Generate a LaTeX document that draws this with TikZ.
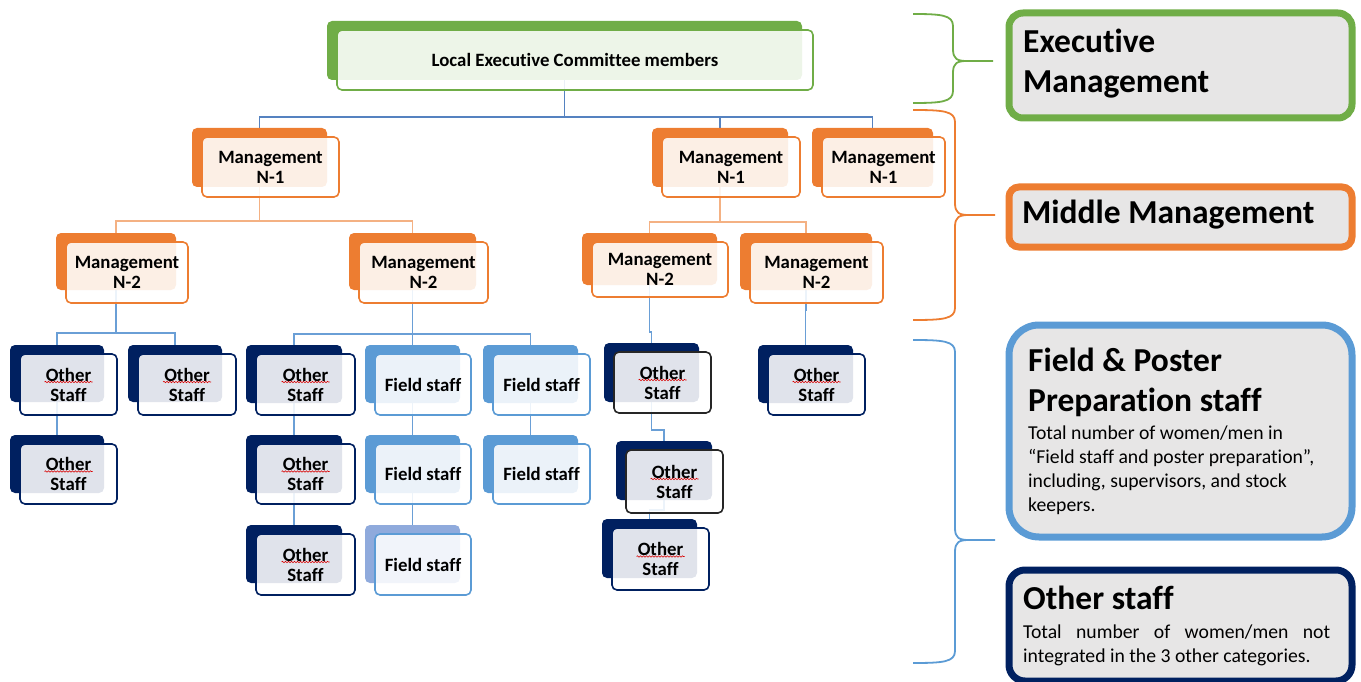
\documentclass[tikz,border=0pt]{standalone}
\usepackage{fontspec}
\setmainfont[Ligatures={NoCommon}]{Carlito}
\usetikzlibrary{decorations.pathmorphing}
\pgfdeclarelayer{bg}
\pgfsetlayers{bg,main}
\definecolor{exc}{HTML}{70AD47}
\definecolor{mgc}{HTML}{ED7D31}
\definecolor{osc}{HTML}{002060}
\definecolor{fsc}{HTML}{5B9BD5}
\definecolor{flc}{HTML}{8FAADC}
\definecolor{blk}{HTML}{262626}
\definecolor{lgfill}{HTML}{E7E6E6}
\definecolor{toplinec}{HTML}{5582C0}
\definecolor{orlinec}{HTML}{F4B183}
\definecolor{bllinec}{HTML}{6A9FD6}
\newcommand\nodefont{\bfseries\fontsize{18.8}{20}\selectfont}
\newcommand\hdfont{\bfseries\fontsize{33.5}{40}\selectfont}
\newcommand\bdfont{\fontsize{19.7}{24}\selectfont}
\tikzset{
  bk/.style={rectangle, rounded corners=5pt, inner sep=0pt, outer sep=0pt, anchor=north west},
  fr/.style={rectangle, rounded corners=5pt, inner sep=0pt, outer sep=0pt, anchor=north west,
    fill=white, fill opacity=0.88, text opacity=1, line width=1.6pt, align=center, font=\nodefont},
  exB/.style={fill=exc}, exF/.style={draw=exc},
  mgB/.style={fill=mgc}, mgF/.style={draw=mgc},
  osB/.style={fill=osc}, osF/.style={draw=osc},
  obB/.style={fill=osc}, obF/.style={draw=blk},
  fsB/.style={fill=fsc}, fsF/.style={draw=fsc},
  flB/.style={fill=flc}, flF/.style={draw=fsc},
  conn/.style={line width=1.5pt},
  leg/.style={rectangle, anchor=north west, fill=lgfill, line width=7pt, inner sep=0pt},
  hd/.style={anchor=base west, inner sep=0pt, font=\hdfont},
  bd/.style={anchor=base west, inner sep=0pt, font=\bdfont},
  squ/.style={draw=red!85!black, line width=0.6pt, decorate,
    decoration={snake, segment length=3pt, amplitude=0.7pt}},
  brc/.style={line width=1.8pt, line join=round}
}
\newcommand\obox[9]{%
  \node[bk,#8B,minimum width=#4pt,minimum height=#5pt] (#1-b) at (#2,#3) {};
  \node[fr,#8F,minimum width=#6pt,minimum height=#7pt] (#1) at (#2+10,#3+9) {#9};}
\newcommand\squig[1]{\draw[squ] ([xshift=-24pt,yshift=2.5pt]#1.center) -- ([xshift=24pt,yshift=2.5pt]#1.center);}
% brace: colour, x-end, x-spine, x-tip, y-top, y-mid, y-bottom
\newcommand\brc[7]{%
  \draw[brc,#1] (#2,#5) .. controls (#3-12,#5) and (#3,#5+1) .. (#3,#5+12) -- (#3,#6-12)
    .. controls (#3,#6-2) and (#3+4,#6) .. (#3+14,#6) -- (#4,#6)
    (#3+14,#6) .. controls (#3+4,#6) and (#3,#6+2) .. (#3,#6+12) -- (#3,#7-12)
    .. controls (#3,#7-1) and (#3-12,#7) .. (#2,#7);}
\begin{document}
\begin{tikzpicture}[x=1pt,y=-1pt]
\useasboundingbox (0,0) rectangle (1361,682);
% tree
\obox{top}{327}{21}{475}{59}{476}{60}{ex}{Local Executive Committee members}
\obox{n1a}{192}{128}{135}{59}{137}{60}{mg}{Management\\N-1}
\obox{n1b}{652}{128}{136}{59}{138}{60}{mg}{Management\\N-1}
\obox{n1c}{812}{128}{121}{59}{123}{60}{mg}{Management\\N-1}
\obox{n2a}{56}{233}{120}{57}{122}{61}{mg}{Management\\N-2}
\obox{n2b}{349}{233}{127}{57}{129}{61}{mg}{Management\\N-2}
\obox{n2c}{582}{233}{135}{52}{136}{55}{mg}{Management\\N-2}
\obox{n2d}{740}{233}{132}{57}{133}{61}{mg}{Management\\N-2}
\obox{o1}{10}{345}{94}{57}{97}{61}{os}{Other\\Staff}
\obox{o2}{128}{345}{94}{57}{98}{61}{os}{Other\\Staff}
\obox{o3}{10}{435}{94}{58}{97}{60}{os}{Other\\Staff}
\obox{o4}{246}{345}{96}{58}{99}{61}{os}{Other\\Staff}
\obox{o5}{246}{435}{96}{58}{99}{60}{os}{Other\\Staff}
\obox{o6}{246}{525}{96}{58}{99}{61}{os}{Other\\Staff}
\obox{f1}{365}{345}{95}{58}{96}{61}{fs}{Field staff}
\obox{f2}{365}{435}{95}{58}{96}{60}{fs}{Field staff}
\obox{f3}{365}{525}{95}{58}{96}{61}{fl}{Field staff}
\obox{f4}{483}{345}{95}{58}{97}{61}{fs}{Field staff}
\obox{f5}{483}{435}{95}{58}{97}{60}{fs}{Field staff}
\obox{o7}{604}{343}{95}{59}{97}{61}{ob}{Other\\Staff}
\obox{o8}{616}{441}{96}{59}{97}{63}{ob}{Other\\Staff}
\obox{o9}{602}{519}{95}{59}{97}{62}{os}{Other\\Staff}
\obox{o10}{758}{345}{95}{58}{97}{61}{os}{Other\\Staff}
\foreach \n in {o1,o2,o3,o4,o5,o6,o7,o8,o9,o10}{\squig{\n}}
% connectors
\begin{pgfonlayer}{bg}
\draw[conn,toplinec] (top-b.south) -- ++(0,37) -| (n1a-b.north);
\draw[conn,toplinec] (top-b.south) -- ++(0,37) -| (n1b-b.north);
\draw[conn,toplinec] (top-b.south) -- ++(0,37) -| (n1c-b.north);
\draw[conn,orlinec] (n1a-b.south) -- ++(0,34) -| (n2a-b.north);
\draw[conn,orlinec] (n1a-b.south) -- ++(0,34) -| (n2b-b.north);
\draw[conn,orlinec] (n1b-b.south) -- ++(0,35) -| (n2c-b.north);
\draw[conn,orlinec] (n1b-b.south) -- ++(0,35) -| (n2d-b.north);
\draw[conn,bllinec] (n2a-b.south) -- ++(0,43) -| (o1-b.north);
\draw[conn,bllinec] (n2a-b.south) -- ++(0,43) -| (o2-b.north);
\draw[conn,bllinec] (n2b-b.south) -- ++(0,44) -| (o4-b.north);
\draw[conn,bllinec] (n2b-b.south) -- ++(0,44) -| (f1-b.north);
\draw[conn,bllinec] (n2b-b.south) -- ++(0,44) -| (f4-b.north);
\draw[conn,bllinec] (n2c-b.south) -- ++(0,47) -| (o7-b.north);
\draw[conn,bllinec] (n2d-b.south) -- ++(0,20) -| (o10-b.north);
\draw[conn,bllinec] (o1-b.south) -- (o3-b.north);
\draw[conn,bllinec] (o4-b.south) -- (o5-b.north);
\draw[conn,bllinec] (o5-b.south) -- (o6-b.north);
\draw[conn,bllinec] (f1-b.south) -- (f2-b.north);
\draw[conn,bllinec] (f2-b.south) -- (f3-b.north);
\draw[conn,bllinec] (f4-b.south) -- (f5-b.north);
\draw[conn,bllinec] (o7-b.south) -- ++(0,28) -| (o8-b.north);
\draw[conn,bllinec] (o8-b.south) -- ++(0,10) -| (o9-b.north);
\end{pgfonlayer}
% braces
\brc{exc}{913}{953}{993}{14}{61}{103}
\brc{mgc}{913}{955}{995}{110}{215}{320}
\brc{fsc}{913}{955}{995}{340}{540}{663}
% legend
\node[leg, draw=exc, rounded corners=14pt, minimum width=343pt, minimum height=105pt] (lex) at (1005.5,9.5) {};
\node[leg, draw=mgc, rounded corners=10pt, minimum width=343pt, minimum height=60pt] (lmg) at (1005.5,183.5) {};
\node[leg, draw=fsc, rounded corners=30pt, minimum width=343pt, minimum height=212pt] (lfs) at (1005.5,321.5) {};
\node[leg, draw=osc, rounded corners=16pt, minimum width=343pt, minimum height=111pt] (los) at (1005.5,566.5) {};
\node[hd] (lex1) at (1023,53) {Executive};
\node[hd] (lex2) at (1023,93) {Management};
\node[hd] (lmg1) at (1022,223) {Middle Management};
\node[hd] (lfs1) at (1028,371) {Field \& Poster};
\node[hd] (lfs2) at (1028,411) {Preparation staff};
\node[bd] (lfs3) at (1028,439) {Total number of women/men in};
\node[bd] (lfs4) at (1028,463) {“Field staff and poster preparation”,};
\node[bd] (lfs5) at (1028,487) {including, supervisors, and stock};
\node[bd] (lfs6) at (1028,511) {keepers.};
\node[hd] (los1) at (1023,609) {Other staff};
\node[bd] (los2) at (1023,638) {\makebox[307pt][s]{Total number of women/men not}};
\node[bd] (los3) at (1023,662) {integrated in the 3 other categories.};
\end{tikzpicture}
\end{document}
